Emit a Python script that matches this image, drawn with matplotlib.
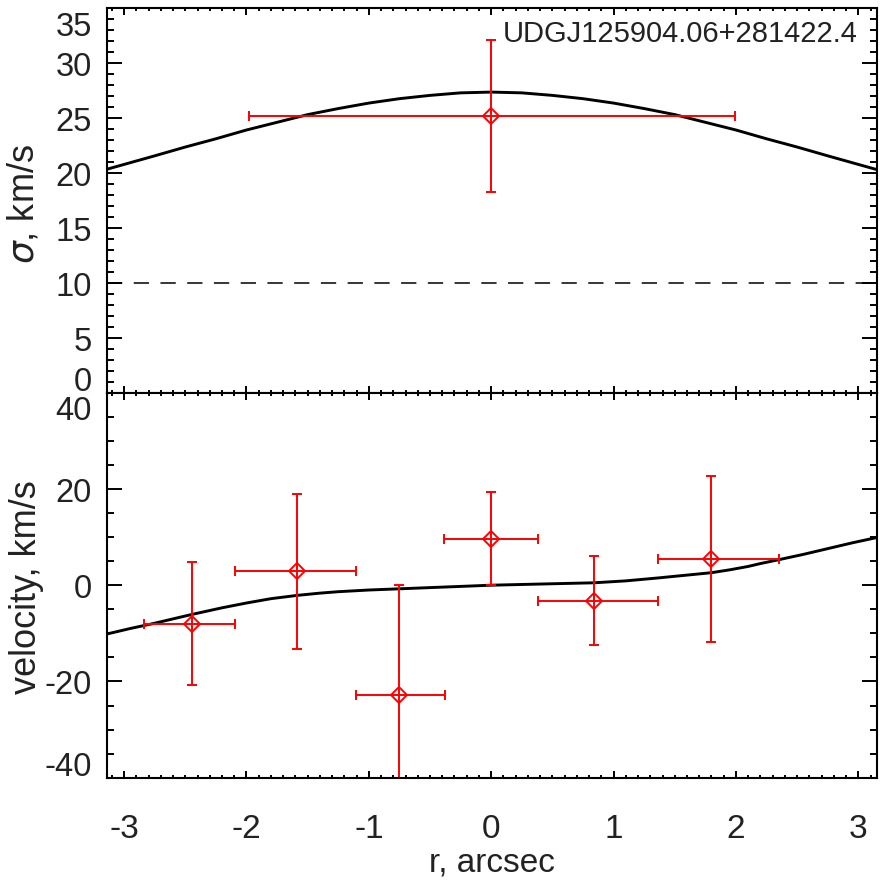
import matplotlib
matplotlib.use("Agg")
import matplotlib.pyplot as plt
from matplotlib.ticker import MultipleLocator

# ---------------- data ----------------
# sigma panel: model curve
sig_model_r = [-3.15, -2.75, -2.5, -2.25, -2.0, -1.75, -1.5, -1.25, -1.0, -0.75, -0.5, -0.25, 0.0,
               0.25, 0.5, 0.75, 1.0, 1.25, 1.5, 1.75, 2.0, 2.25, 2.5, 2.75, 3.15]
sig_model_v = [20.3, 21.55, 22.35, 23.1, 23.9, 24.6, 25.3, 25.85, 26.35, 26.75, 27.05, 27.28, 27.35,
               27.28, 27.05, 26.75, 26.35, 25.85, 25.3, 24.6, 23.9, 23.1, 22.35, 21.55, 20.3]
# sigma panel: measured point
sig_r = [0.0]
sig_v = [25.2]
sig_verr = [6.9]
sig_rerr_lo = [1.98]
sig_rerr_hi = [1.99]
sig_limit = 10.0

# velocity panel: model curve
vel_model_r = [-3.15, -2.95, -2.75, -2.45, -2.2, -2.0, -1.8, -1.58, -1.4, -1.25, -1.0, -0.75, -0.5,
               -0.25, 0.0, 0.25, 0.5, 0.84, 1.1, 1.36, 1.6, 1.8, 1.95, 2.1, 2.2, 2.35, 2.55,
               2.75, 2.95, 3.15]
vel_model_v = [-10.2, -9.0, -7.9, -6.1, -4.7, -3.7, -2.8, -2.1, -1.65, -1.35, -1.0, -0.75, -0.5,
               -0.25, 0.0, 0.15, 0.3, 0.5, 0.9, 1.5, 2.1, 2.6, 3.2, 3.9, 4.5, 5.3, 6.4,
               7.6, 8.8, 9.9]
# velocity panel: measured points
vel_r = [-2.447, -1.584, -0.753, 0.0, 0.842, 1.796]
vel_v = [-8.0, 2.9, -22.8, 9.7, -3.2, 5.4]
vel_verr = [12.8, 16.1, 22.8, 9.6, 9.3, 17.2]
vel_rerr_lo = [0.39, 0.511, 0.354, 0.386, 0.46, 0.436]
vel_rerr_hi = [0.351, 0.477, 0.376, 0.382, 0.519, 0.553]

x_ticks = [-3, -2, -1, 0, 1, 2, 3]
x_ticklabels = ["-3", "-2", "-1", "0", "1", "2", "3"]
sig_ticks = [0, 5, 10, 15, 20, 25, 30, 35]
sig_ticklabels = ["0", "5", "10", "15", "20", "25", "30", "35"]
vel_ticks = [-40, -20, 0, 20, 40]
vel_ticklabels = ["-40", "-20", "0", "20", "40"]

title_text = "UDGJ125904.06+281422.4"
xlabel_text = "r, arcsec"
sig_label = r"$\sigma$, km/s"
vel_label = "velocity, km/s"

# ---------------- style ----------------
plt.rcParams['font.family'] = ['Liberation Sans', 'DejaVu Sans']
plt.rcParams['mathtext.fontset'] = 'dejavusans'
TXT = '#222222'
NARROW = ['Liberation Sans Narrow', 'Liberation Sans', 'DejaVu Sans']

W = H = 886
fig = plt.figure(figsize=(W / 100, H / 100), dpi=100)

def px(x0, y0, x1, y1):
    return [x0 / W, 1 - y1 / H, (x1 - x0) / W, (y1 - y0) / H]

ax1 = fig.add_axes(px(106.7, 8.0, 876.7, 392.7))
ax2 = fig.add_axes(px(106.7, 392.7, 876.7, 777.7))

xlim = (-3.142, 3.150)

for ax in (ax1, ax2):
    ax.set_xlim(*xlim)
    for s in ax.spines.values():
        s.set_linewidth(1.5)
    ax.xaxis.set_major_locator(MultipleLocator(1))
    ax.xaxis.set_minor_locator(MultipleLocator(0.1))
    ax.tick_params(axis='both', which='both', direction='in', top=True, right=True,
                   width=1.4, color='k')
    ax.tick_params(axis='x', which='major', length=5.0)
    ax.tick_params(axis='x', which='minor', length=2.5)
    ax.tick_params(axis='y', which='major', length=10.8)
    ax.tick_params(axis='y', which='minor', length=5.0)
    ax.tick_params(axis='y', labelleft=False)

# ---- top panel ----
ax1.set_ylim(0, 35)
ax1.yaxis.set_major_locator(MultipleLocator(5))
ax1.yaxis.set_minor_locator(MultipleLocator(1))
ax1.tick_params(axis='x', labelbottom=False)
ax1.plot(sig_model_r, sig_model_v, color='k', lw=2.1, solid_capstyle='butt')
ax1.axhline(sig_limit, color='k', lw=1.1, dashes=(10, 7.5))
ax1.errorbar(sig_r, sig_v, yerr=sig_verr, xerr=[sig_rerr_lo, sig_rerr_hi],
             fmt='D', ms=8, mfc='none', mec='red', mew=1.4, color='red',
             elinewidth=1.4, capsize=3.3, capthick=1.4)
ax1.text(0.9757, 0.9116, title_text, transform=ax1.transAxes, ha='right', va='baseline',
         fontsize=21, color=TXT)

# ---- bottom panel ----
ax2.set_ylim(-40, 40)
ax2.yaxis.set_major_locator(MultipleLocator(20))
ax2.yaxis.set_minor_locator(MultipleLocator(5))
ax2.plot(vel_model_r, vel_model_v, color='k', lw=2.1, solid_capstyle='butt')
ax2.errorbar(vel_r, vel_v, yerr=vel_verr, xerr=[vel_rerr_lo, vel_rerr_hi],
             fmt='D', ms=8, mfc='none', mec='red', mew=1.4, color='red',
             elinewidth=1.4, capsize=3.3, capthick=1.4)
ax2.set_xticks(x_ticks)
ax2.set_xticklabels(x_ticklabels, fontsize=24, family=NARROW, color=TXT)
ax2.tick_params(axis='x', which='major', pad=26)

# ---- manual y tick labels (IDL style placement) ----
def ylabels(ax, ticks, labels, lo, hi):
    for t, lab in zip(ticks, labels):
        if t == hi:
            dy = 19
        elif t == lo:
            dy = -10
        else:
            dy = 4.5
        ax.annotate(lab, xy=(0, t), xycoords=('axes fraction', 'data'),
                    xytext=(-15, -dy), textcoords='offset pixels',
                    ha='right', va='center', fontsize=23.5, color=TXT,
                    annotation_clip=False)

ylabels(ax1, sig_ticks, sig_ticklabels, 0, 35)
ylabels(ax2, vel_ticks, vel_ticklabels, -40, 40)

# ---- axis titles ----
fig.text(24 / W, 1 - 204 / H, sig_label, rotation=90, ha='center', va='center',
         fontsize=26, color=TXT)
fig.text(27 / W, 1 - 587 / H, vel_label, rotation=90, ha='center', va='center',
         fontsize=26, color=TXT)
fig.text(491.7 / W, 1 - 872 / H, xlabel_text, ha='center', va='baseline',
         fontsize=24, family=NARROW, color=TXT)

fig.savefig("out.png", dpi=100)
